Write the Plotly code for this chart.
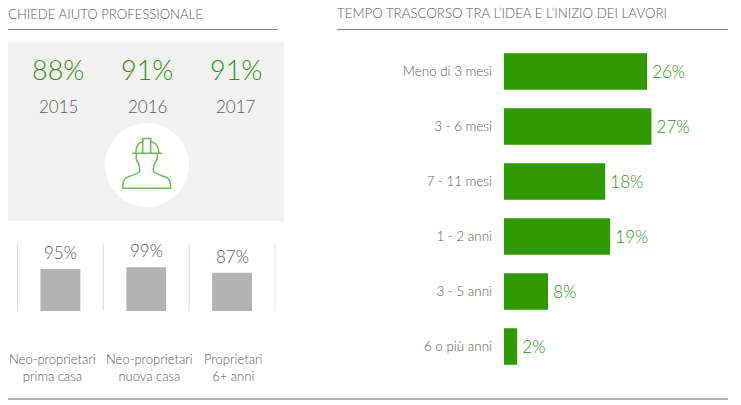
import plotly.graph_objects as go

W, H = 741, 405
FONT = "Lato Light, Lato"
GREEN = "#2e9900"
TEXTGREEN = "#2f9410"
GRAY = "#5a5a5a"

# ---- data ----
left_title = "CHIEDE AIUTO PROFESSIONALE"
right_title = "TEMPO TRASCORSO TRA L’IDEA E L’INIZIO DEI LAVORI"
years = ["2015", "2016", "2017"]
year_pct = ["88%", "91%", "91%"]
owner_cats = ["Neo-proprietari<br>prima casa", "Neo-proprietari<br>nuova casa", "Proprietari<br>6+ anni"]
owner_vals = [95, 99, 87]
owner_labels = ["95%", "99%", "87%"]
time_cats = ["Meno di 3 mesi", "3 - 6 mesi", "7 - 11 mesi", "1 - 2 anni", "3 - 5 anni", "6 o più anni"]
time_vals = [26, 26.8, 18.4, 19.3, 8, 2.4]
time_labels = ["\u200926%", "\u200927%", "\u200918%", "\u200919%", "\u20098%", "\u20092%"]


def px(x):
    return x / W


def py(y):
    return 1 - y / H


def pth(d):
    """Turn a pixel-space path description into paper coordinates."""
    out = []
    for tok in d.split():
        if "," in tok:
            a, b = tok.split(",")
            out.append(f"{px(float(a)):.5f},{py(float(b)):.5f}")
        else:
            out.append(tok)
    return " ".join(out)


def rule(x0, x1, y, color="#808080", width=1.2):
    return dict(type="line", xref="paper", yref="paper", x0=px(x0), x1=px(x1), y0=py(y), y1=py(y),
                line=dict(color=color, width=width))


def label(x, y, text, size, color, xanchor="center"):
    return dict(x=px(x), y=py(y), xref="paper", yref="paper", text=text, showarrow=False,
                xanchor=xanchor, yanchor="middle", borderpad=0, borderwidth=0,
                font=dict(family=FONT, size=size, color=color))


fig = go.Figure()

# right horizontal bars
fig.add_bar(
    y=time_cats, x=time_vals, orientation="h", marker=dict(color=GREEN, line_width=0),
    text=time_labels, textposition="outside", cliponaxis=False,
    textfont=dict(family=FONT, size=17, color=TEXTGREEN),
    xaxis="x", yaxis="y", showlegend=False,
)
# lower-left gray columns
fig.add_bar(
    x=owner_cats, y=owner_vals, marker=dict(color="#b3b3b3", line_width=0),
    xaxis="x2", yaxis="y2", showlegend=False, width=0.464,
)

shapes = [
    dict(type="rect", xref="paper", yref="paper", x0=px(8), x1=px(284), y0=py(221), y1=py(42),
         fillcolor="#f1f1f1", line_width=0, layer="below"),
    dict(type="circle", xref="paper", yref="paper", x0=px(105), x1=px(189), y0=py(207), y1=py(123),
         fillcolor="#ffffff", line_width=0, layer="below"),
    rule(8, 278, 29.5),
    rule(337, 728, 29.5),
    rule(8, 728, 399, "#999999", 1.4),
]
# separators between the column groups
for i in range(4):
    shapes.append(dict(type="line", xref="x2", yref="paper", x0=i - 0.5, x1=i - 0.5,
                       y0=py(311), y1=py(244), line=dict(color="#dcdcdc", width=1)))
# worker icon
icon = dict(xref="paper", yref="paper", type="path", line=dict(color="#6cbb4e", width=1.5))
shapes += [
    dict(icon, path=pth("M 132.3,153.3 L 162.3,153.3")),
    dict(icon, path=pth("M 135.7,153.3 C 135.7,146 139,142 142.7,141.5 L 142.7,138.5 L 150.7,138.5 L 150.7,141.5 "
                        "C 155,142 159,146 159,153.3")),
    dict(icon, path=pth("M 142.7,138.5 L 142.7,153.3 M 150.7,138.5 L 150.7,153.3")),
    dict(icon, path=pth("M 136.7,153.3 C 135.5,158 136,160 137.5,162 C 139.5,165 140,168 139.5,172 "
                        "C 135,175 129,176 126,178 C 123.5,180 122.7,183 122.7,188.3 L 170.7,188.3 "
                        "C 170.7,183 170,180 167.5,178 C 164,176 158,175 153.5,172 C 153,168 153.5,165 155.5,162 "
                        "C 157.5,160 158,158 157,153.3")),
]

annotations = [
    label(8, 14.5, left_title, 13.15, GRAY, "left"),
    label(337, 13.5, right_title, 13.3, GRAY, "left"),
]
year_x = [58, 147, 236]
for xc, pct, yr in zip(year_x, year_pct, years):
    annotations.append(label(xc, 69, pct, 27, TEXTGREEN))
    annotations.append(label(xc, 106, yr, 17, GRAY))
owner_label_x = [52.5, 149, 233]
for xc, cat in zip(owner_label_x, owner_cats):
    annotations.append(label(xc, 367, cat, 13, GRAY))
# value labels above the gray columns, anchored to the data
for cat, val, txt in zip(owner_cats, owner_vals, owner_labels):
    annotations.append(dict(x=cat, y=val, xref="x2", yref="y2", text=txt, showarrow=False,
                            xanchor="center", yanchor="bottom", yshift=5, borderpad=0,
                            font=dict(family=FONT, size=17, color=GRAY)))

fig.update_layout(
    width=W, height=H, margin=dict(l=0, r=0, t=0, b=0), autosize=False,
    paper_bgcolor="white", plot_bgcolor="rgba(0,0,0,0)",
    barmode="overlay", bargap=0.336, shapes=shapes, annotations=annotations,
    xaxis=dict(domain=[px(504), px(724)], range=[0, 40], visible=False, fixedrange=True),
    yaxis=dict(domain=[py(374), py(44)], autorange="reversed", type="category", showline=False,
               showgrid=False, ticks="", ticklabelstandoff=11,
               tickfont=dict(family=FONT, size=13.4, color=GRAY), fixedrange=True),
    xaxis2=dict(domain=[px(17), px(275.5)], type="category", showline=False, showgrid=False, ticks="",
                anchor="y2", showticklabels=False, fixedrange=True),
    yaxis2=dict(domain=[py(311), py(244)], range=[0, 152], visible=False, anchor="x2", fixedrange=True),
)

fig.write_html("out.html", config={"displayModeBar": False},
               post_script="document.body.style.margin='0';")
